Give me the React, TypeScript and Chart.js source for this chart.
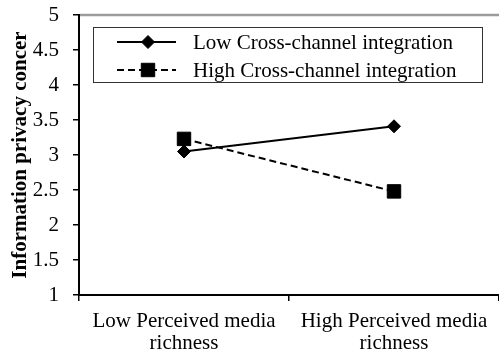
import React, { useEffect, useRef } from 'react';
import { Chart, registerables } from 'chart.js';

Chart.register(...registerables);

const categories: string[][] = [
  ['Low Perceived media', 'richness'],
  ['High Perceived media', 'richness'],
];
const seriesNames: string[] = ['Low Cross-channel integration', 'High Cross-channel integration'];
const lowCrossValues: number[] = [3.05, 3.41];
const highCrossValues: number[] = [3.23, 2.48];
const yMin = 1;
const yMax = 5;
const yStep = 0.5;
const yTitle = 'Information privacy concer';

const FONT = '"Liberation Serif", "Times New Roman", serif';

// desired plot-area box
const AREA = { left: 79, top: 15, right: 499, bottom: 295 };

function drawMarker(ctx: CanvasRenderingContext2D, style: string, x: number, y: number, r: number) {
  ctx.beginPath();
  if (style === 'rectRot') {
    ctx.moveTo(x - r, y);
    ctx.lineTo(x, y - r);
    ctx.lineTo(x + r, y);
    ctx.lineTo(x, y + r);
    ctx.closePath();
  } else {
    const s = r * Math.SQRT1_2;
    ctx.rect(x - s, y - s, 2 * s, 2 * s);
  }
  ctx.fill();
  ctx.stroke();
}

const framePlugin = {
  id: 'frameAndLegend',
  afterDraw(chart: any) {
    const { ctx, chartArea } = chart;
    ctx.save();
    // top gray border line
    ctx.strokeStyle = '#9c9c9c';
    ctx.lineWidth = 2.5;
    ctx.beginPath();
    ctx.moveTo(chartArea.left + 1, chartArea.top);
    ctx.lineTo(chartArea.right, chartArea.top);
    ctx.stroke();

    // legend box
    const bx = 93.5, by = 27.5, bw = 389, bh = 55;
    ctx.fillStyle = '#ffffff';
    ctx.fillRect(bx, by, bw, bh);
    ctx.strokeStyle = '#333333';
    ctx.lineWidth = 1;
    ctx.strokeRect(bx, by, bw, bh);

    chart.data.datasets.forEach((ds: any, i: number) => {
      const y = 42 + i * 28;
      ctx.strokeStyle = '#000';
      ctx.lineWidth = 2;
      ctx.setLineDash(ds.borderDash || []);
      ctx.beginPath();
      ctx.moveTo(117, y);
      ctx.lineTo(176, y);
      ctx.stroke();
      ctx.setLineDash([]);
      ctx.fillStyle = '#000';
      ctx.lineWidth = 1;
      drawMarker(ctx, ds.pointStyle, 148, y, ds.pointStyle === 'rectRot' ? 6.5 : 9.5);
      ctx.fillStyle = '#000';
      ctx.font = `21px ${FONT}`;
      ctx.textAlign = 'left';
      ctx.textBaseline = 'middle';
      ctx.fillText(ds.label, 193, y + 1);
    });
    ctx.restore();
  },
};

export default function App() {
  const canvasRef = useRef<HTMLCanvasElement | null>(null);

  useEffect(() => {
    if (!canvasRef.current) return;
    const chart = new Chart(canvasRef.current, {
      type: 'line',
      data: {
        labels: categories,
        datasets: [
          {
            label: seriesNames[0],
            data: lowCrossValues,
            borderColor: '#000',
            backgroundColor: '#000',
            borderWidth: 2,
            pointStyle: 'rectRot',
            pointRadius: 6.5,
            pointBorderWidth: 1,
            pointBackgroundColor: '#000',
            pointBorderColor: '#000',
            tension: 0,
            clip: false,
          },
          {
            label: seriesNames[1],
            data: highCrossValues,
            borderColor: '#000',
            backgroundColor: '#000',
            borderWidth: 2,
            borderDash: [7, 4],
            pointStyle: 'rect',
            pointRadius: 9.5,
            pointBorderWidth: 1,
            pointBackgroundColor: '#000',
            pointBorderColor: '#000',
            tension: 0,
            clip: false,
          },
        ],
      },
      options: {
        animation: false,
        responsive: false,
        devicePixelRatio: 1,
        layout: { autoPadding: false, padding: { left: 0, top: 15, right: 0, bottom: 0 } },
        plugins: {
          legend: { display: false },
          tooltip: { enabled: false },
        },
        scales: {
          x: {
            type: 'category',
            offset: true,
            grid: {
              offset: true,
              display: true,
              drawOnChartArea: false,
              drawTicks: true,
              tickLength: 6,
              color: '#000',
              lineWidth: 1.5,
            },
            border: { display: true, color: '#000', width: 2 },
            ticks: {
              color: '#000',
              font: { family: FONT, size: 21, lineHeight: 1.05 },
              padding: 9,
              maxRotation: 0,
              autoSkip: false,
            },
            afterFit: (scale: any) => {
              scale.height = 60;
              scale.paddingLeft = 0;
              scale.paddingRight = 0;
            },
          },
          y: {
            type: 'linear',
            min: yMin,
            max: yMax,
            ticks: {
              stepSize: yStep,
              color: '#000',
              font: { family: FONT, size: 21 },
              padding: 14,
              callback: (value: any) => String(Number(value)),
            },
            grid: {
              display: true,
              drawOnChartArea: false,
              drawTicks: true,
              tickLength: 6,
              color: '#000',
              lineWidth: 1.5,
            },
            border: { display: true, color: '#000', width: 2 },
            title: {
              display: true,
              text: yTitle,
              color: '#000',
              font: { family: FONT, size: 21, weight: 'bold', lineHeight: 1.2 },
              padding: { top: 8, bottom: 0 },
            },
            afterFit: (scale: any) => {
              scale.width = 79;
              scale.paddingTop = 0;
              scale.paddingBottom = 0;
            },
          },
        },
      },
      plugins: [framePlugin],
    });

    // Correct any remaining automatic padding so the plot area sits as in the reference
    const a = chart.chartArea;
    const pad: any = (chart.options.layout as any).padding;
    const dTop = AREA.top - a.top;
    const dRight = a.right - AREA.right;
    const dLeft = AREA.left - a.left;
    const dBottom = a.bottom - AREA.bottom;
    if (Math.abs(dTop) > 0.5 || Math.abs(dRight) > 0.5 || Math.abs(dLeft) > 0.5 || Math.abs(dBottom) > 0.5) {
      (chart.options.layout as any).padding = {
        top: pad.top + dTop,
        right: pad.right + dRight,
        left: pad.left + dLeft,
        bottom: pad.bottom + dBottom,
      };
      chart.update();
    }

    return () => chart.destroy();
  }, []);

  return (
    <div style={{ position: 'absolute', left: 0, top: 0, width: 499, height: 355, background: '#fff' }}>
      <canvas ref={canvasRef} width={499} height={355} style={{ display: 'block' }} />
    </div>
  );
}
